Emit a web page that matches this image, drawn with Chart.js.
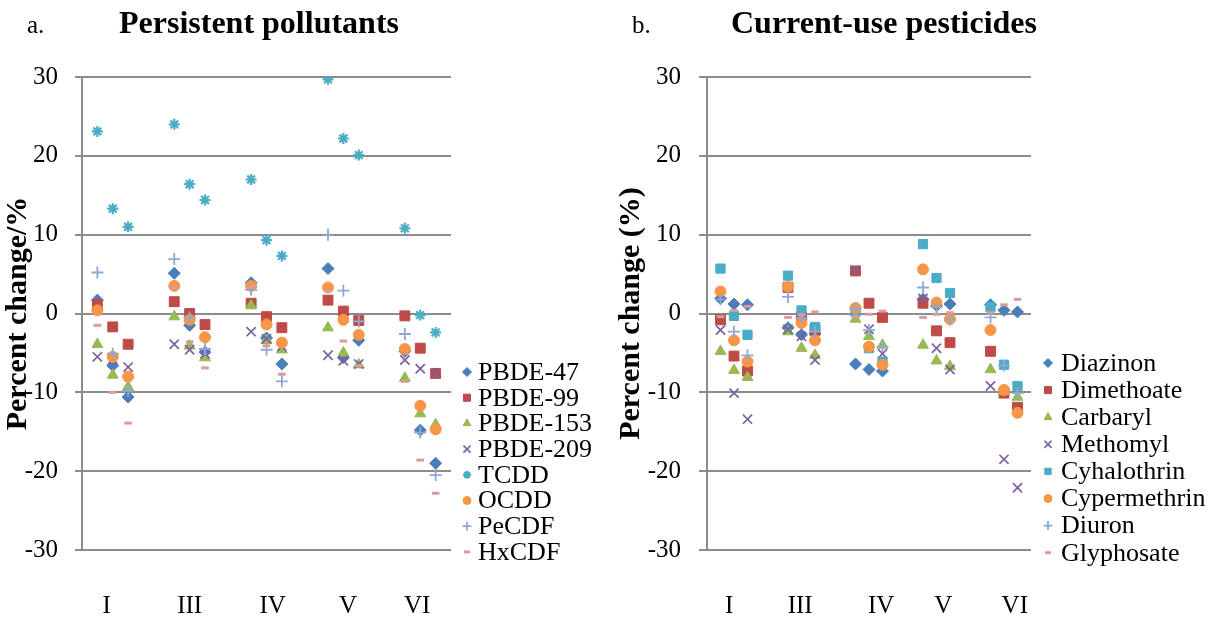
<!DOCTYPE html>
<html><head><meta charset="utf-8">
<script src="https://cdn.jsdelivr.net/npm/chart.js@4/dist/chart.umd.min.js"></script>
<style>
html,body{margin:0;padding:0;background:#fff;overflow:hidden;}
#pa{position:absolute;left:0;top:0;width:606px;height:624px;}
#pb{position:absolute;left:606px;top:0;width:607px;height:624px;}
</style></head><body>
<div id="pa"><canvas id="ca"></canvas></div>
<div id="pb"><canvas id="cb"></canvas></div>
<script>
// ---- categories (three sub-points per group) ----
const groups = ['I', 'III', 'IV', 'V', 'VI'];
const yTickValues = [30, 20, 10, 0, -10, -20, -30];

// ---- panel a: persistent pollutants (% change) ----
const pollutantNames = ['PBDE-47', 'PBDE-99', 'PBDE-153', 'PBDE-209', 'TCDD', 'OCDD', 'PeCDF', 'HxCDF'];
const pbde47  = [1.7, -6.6, -10.6, 5.1, -1.5, -4.9, 3.9, -3.1, -6.4, 5.7, -5.6, -3.4, -4.8, -14.8, -19.0];
const pbde99  = [1.1, -1.7, -3.9, 1.5, 0.0, -1.4, 1.3, -0.4, -1.8, 1.7, 0.3, -0.9, -0.3, -4.4, -7.6];
const pbde153 = [-3.9, -7.8, -9.3, -0.4, -4.1, -5.6, 1.0, -3.4, -4.6, -1.8, -5.0, -6.5, -8.2, -12.7, -14.1];
const pbde209 = [-5.5, -5.8, -6.8, -3.9, -4.6, -5.1, -2.3, -3.2, -4.2, -5.3, -6.0, -6.4, -5.9, -7.0, -7.6];
const tcdd    = [23.1, 13.3, 11.0, 24.0, 16.4, 14.4, 17.0, 9.3, 7.3, 29.7, 22.2, 20.1, 10.8, -0.2, -2.4];
const ocdd    = [0.4, -5.5, -8.0, 3.5, -0.8, -3.0, 3.5, -1.4, -3.7, 3.3, -0.8, -2.7, -4.5, -11.7, -14.7];
const pecdf   = [5.2, -5.1, -9.8, 6.9, -0.5, -4.5, 3.0, -4.6, -8.6, 10.0, 2.9, -1.0, -2.6, -15.1, -20.5];
const hxcdf   = [-1.5, -10.0, -13.9, 3.3, -3.6, -6.9, 3.4, -4.1, -7.7, 2.9, -3.5, -6.6, -8.6, -18.6, -22.8];

// ---- panel b: current-use pesticides (% change) ----
const pesticideNames = ['Diazinon', 'Dimethoate', 'Carbaryl', 'Methomyl', 'Cyhalothrin', 'Cypermethrin', 'Diuron', 'Glyphosate'];
const diazinon     = [1.9, 1.2, 1.1, -1.8, -2.7, -2.6, -6.4, -7.1, -7.3, 1.8, 1.0, 1.2, 1.1, 0.4, 0.2];
const dimethoate   = [-0.8, -5.4, -7.3, 3.3, -0.4, -2.0, 5.4, 1.3, -0.5, 1.3, -2.2, -3.7, -4.8, -10.1, -11.9];
const carbaryl     = [-4.8, -7.2, -8.1, -2.3, -4.4, -5.3, -0.7, -2.9, -4.0, -4.0, -6.0, -6.7, -7.1, -9.9, -10.6];
const methomyl     = [-2.1, -10.1, -13.4, -2.0, -2.9, -5.9, 5.5, -2.0, -5.1, 1.9, -4.4, -7.1, -9.2, -18.5, -22.1];
const cyhalothrin  = [5.7, -0.3, -2.7, 4.8, 0.4, -1.7, 0.2, -4.4, -6.1, 8.8, 4.5, 2.6, 0.8, -6.5, -9.2];
const cypermethrin = [2.8, -3.4, -6.1, 3.4, -1.2, -3.4, 0.7, -4.2, -6.5, 5.6, 1.4, -0.7, -2.1, -9.7, -12.6];
const diuron       = [1.8, -2.3, -5.3, 2.1, -0.6, -2.3, 0.6, -2.1, -4.2, 3.3, 0.8, -0.8, -0.5, -6.6, -10.1];
const glyphosate   = [-0.4, 0.4, 0.9, -0.5, -0.2, 0.2, -0.4, -0.1, 0.3, -0.5, -0.1, 0.1, 0.1, 1.1, 1.8];

// ---- layout / style (not data) ----
const FONT = '"Liberation Serif", "Times New Roman", serif';
const GRID = '#8c8c8c';
const markerStyles = [
  {pointStyle: 'rectRot',  color: '#4A7EBB', radius: 6,   bw: 1,   lr: 4.5},
  {pointStyle: 'rect',     color: '#BE4B48', radius: 7,   bw: 1,   lr: 5},
  {pointStyle: 'triangle', color: '#98B954', radius: 6.3, bw: 1,   lr: 4.5},
  {pointStyle: 'crossRot', color: '#7D60A0', radius: 6.5, bw: 1.7, lr: 5},
  {pointStyle: 'star',     color: '#4BACC6', radius: 5.5, bw: 2.2, lr: 4},
  {pointStyle: 'circle',   color: '#F79646', radius: 5.5, bw: 1,   lr: 4},
  {pointStyle: 'cross',    color: '#8FA8D6', radius: 6,   bw: 1.8, lr: 4.5},
  {pointStyle: 'line',     color: '#DE9A98', radius: 3.8, bw: 3,   lr: 3}
];
const rightStyles = markerStyles.map((s, i) => i === 4 ? Object.assign({}, s, {pointStyle: 'rect', radius: 6.5, bw: 1, lr: 4.5}) : s);

function toPoints(values) {
  // sub-point j of group g sits on slot 1 + 5g + j of the category axis
  return values.map((v, k) => ({x: 1 + 5 * Math.floor(k / 3) + (k % 3), y: v}));
}

function makeDatasets(names, series, styles) {
  return names.map((n, i) => ({
    label: n,
    data: toPoints(series[i]),
    pointStyle: styles[i].pointStyle,
    pointRadius: styles[i].radius,
    pointBorderWidth: styles[i].bw,
    backgroundColor: styles[i].color,
    borderColor: styles[i].color,
    showLine: false,
    order: -i,
    legendRadius: styles[i].lr
  }));
}

const decor = {
  id: 'decor',
  afterDraw(chart, args, o) {
    const ctx = chart.ctx;
    ctx.save();
    ctx.fillStyle = '#000';
    ctx.textBaseline = 'alphabetic';
    ctx.textAlign = 'left';
    ctx.font = '25px ' + FONT;
    ctx.fillText(o.letter, o.letterX, o.baseY);
    ctx.textAlign = 'center';
    ctx.font = 'bold 32px ' + FONT;
    ctx.fillText(o.title, o.titleX, o.baseY);
    ctx.font = o.legendSize + 'px ' + FONT;
    ctx.textAlign = 'left';
    ctx.textBaseline = 'middle';
    chart.data.datasets.forEach((ds, i) => {
      const y = o.legendTop + i * o.legendStep;
      ctx.fillStyle = ds.backgroundColor;
      ctx.strokeStyle = ds.borderColor;
      ctx.lineWidth = ds.pointBorderWidth;
      if (Chart.helpers && Chart.helpers.drawPoint) {
        Chart.helpers.drawPoint(ctx, {pointStyle: ds.pointStyle, radius: ds.legendRadius, borderWidth: ds.pointBorderWidth, rotation: 0}, o.markerX, y);
      } else {
        ctx.beginPath(); ctx.arc(o.markerX, y, 4, 0, Math.PI * 2); ctx.fill();
      }
      ctx.fillStyle = '#000';
      ctx.fillText(ds.label, o.textX, y + 1);
    });
    ctx.restore();
  }
};

function makeChart(canvasId, datasets, cfg) {
  const cv = document.getElementById(canvasId);
  return new Chart(cv, {
    type: 'scatter',
    data: {datasets},
    options: {
      responsive: false,
      animation: false,
      events: [],
      layout: {padding: {left: 0, top: 77, right: cfg.padRight, bottom: 0}},
      plugins: {
        legend: {display: false},
        tooltip: {enabled: false},
        decor: cfg.decor
      },
      scales: {
        x: {
          type: 'linear', min: 0, max: 24,
          grid: {display: false, drawTicks: false},
          border: {display: false},
          afterBuildTicks: s => { s.ticks = cfg.labelPos.map(v => ({value: v})); },
          afterFit: s => { s.height = 74; },
          ticks: {
            autoSkip: false, maxRotation: 0, padding: 41,
            color: '#000', font: {family: FONT, size: 25},
            callback: (v, i) => groups[i]
          }
        },
        y: {
          min: -30, max: 30,
          afterBuildTicks: s => { s.ticks = yTickValues.map(v => ({value: v})); },
          afterFit: s => { s.width = cfg.yWidth; },
          grid: {color: GRID, lineWidth: 2, tickLength: cfg.tickLen, drawTicks: true},
          border: {display: true, color: GRID, width: 2},
          ticks: {color: '#000', padding: cfg.tickPad, font: {family: FONT, size: 25}},
          title: {
            display: true, text: cfg.yTitle, color: '#000',
            font: {family: FONT, size: 30, weight: 'bold'},
            padding: {top: cfg.titlePad, bottom: 0}
          }
        }
      }
    },
    plugins: [decor]
  });
}

function sizeCanvas(id, w, h) {
  const c = document.getElementById(id);
  c.width = w; c.height = h;
  c.style.width = w + 'px'; c.style.height = h + 'px';
}
sizeCanvas('ca', 606, 624);
sizeCanvas('cb', 607, 624);

makeChart('ca',
  makeDatasets(pollutantNames, [pbde47, pbde99, pbde153, pbde209, tcdd, ocdd, pecdf, hxcdf], markerStyles),
  {
    padRight: 155, yWidth: 82, tickLen: 7, tickPad: 17, titlePad: 0,
    yTitle: 'Percent change/%',
    labelPos: [1.6, 7.0, 12.4, 17.3, 21.8],
    decor: {letter: 'a.', letterX: 27, title: 'Persistent pollutants', titleX: 259, baseY: 33,
            legendTop: 372, legendStep: 25.7, markerX: 467, textX: 478, legendSize: 26}
  });

makeChart('cb',
  makeDatasets(pesticideNames, [diazinon, dimethoate, carbaryl, methomyl, cyhalothrin, cypermethrin, diuron, glyphosate], rightStyles),
  {
    padRight: 182, yWidth: 101, tickLen: 8, tickPad: 18, titlePad: 7,
    yTitle: 'Percent change (%)',
    labelPos: [1.65, 6.9, 12.9, 17.5, 22.8],
    decor: {letter: 'b.', letterX: 26, title: 'Current-use pesticides', titleX: 278, baseY: 33,
            legendTop: 363, legendStep: 27.1, markerX: 442, textX: 455, legendSize: 26}
  });
</script>
</body></html>
